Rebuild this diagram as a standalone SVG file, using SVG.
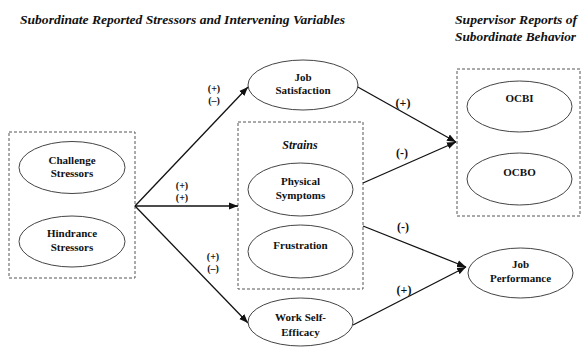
<svg xmlns="http://www.w3.org/2000/svg" width="582" height="347" viewBox="0 0 582 347">
<defs>
<marker id="ah" markerUnits="userSpaceOnUse" markerWidth="10" markerHeight="8" refX="9" refY="4" orient="auto">
<path d="M0,0.5 L9,4 L0,7.5 Z" fill="#111"/>
</marker>
</defs>
<rect width="582" height="347" fill="#fff"/>
<text font-family="Liberation Serif" font-weight="bold" font-style="italic" font-size="13" fill="#111" x="20" y="24" textLength="325" lengthAdjust="spacingAndGlyphs">Subordinate Reported Stressors and Intervening Variables</text>
<text font-family="Liberation Serif" font-weight="bold" font-style="italic" font-size="13" fill="#111" x="455" y="24" textLength="122" lengthAdjust="spacingAndGlyphs">Supervisor Reports of</text>
<text font-family="Liberation Serif" font-weight="bold" font-style="italic" font-size="13" fill="#111" x="455" y="41" textLength="121" lengthAdjust="spacingAndGlyphs">Subordinate Behavior</text>

<g fill="none" stroke="#555" stroke-width="1" stroke-dasharray="3,2">
<g id="stressors-box"><rect x="9" y="132" width="126" height="146"/></g>
<g id="strains-box"><rect x="238" y="122" width="125" height="167"/></g>
<g id="outcomes-box"><rect x="457" y="69" width="123" height="147"/></g>
</g>
<text font-family="Liberation Serif" font-weight="bold" font-style="italic" font-size="12" fill="#111" x="300" y="149" text-anchor="middle">Strains</text>

<g id="connectors">
<g fill="none" stroke="#111" stroke-width="1.3" marker-end="url(#ah)">
<path d="M135,206 L248,87"/>
<path d="M135,206 L238,206"/>
<path d="M135,206 L248,323"/>
<path d="M356,86 L456,142"/>
<path d="M363,183 L456,142"/>
<path d="M363,226 L466,267"/>
<path d="M353,325 L466,267"/>
</g>
<text font-family="Liberation Serif" font-weight="bold" font-size="10" fill="#111" text-anchor="middle" x="214" y="92">(+)</text>
<text font-family="Liberation Serif" font-weight="bold" font-size="10" fill="#111" text-anchor="middle" x="214" y="104">(–)</text>
<text font-family="Liberation Serif" font-weight="bold" font-size="10" fill="#111" text-anchor="middle" x="182" y="189">(+)</text>
<text font-family="Liberation Serif" font-weight="bold" font-size="10" fill="#111" text-anchor="middle" x="182" y="201">(+)</text>
<text font-family="Liberation Serif" font-weight="bold" font-size="10" fill="#111" text-anchor="middle" x="213" y="260">(+)</text>
<text font-family="Liberation Serif" font-weight="bold" font-size="10" fill="#111" text-anchor="middle" x="213" y="272">(–)</text>
<text font-family="Liberation Serif" font-weight="bold" font-size="12" fill="#111" text-anchor="middle" x="403" y="107">(+)</text>
<text font-family="Liberation Serif" font-weight="bold" font-size="12" fill="#111" text-anchor="middle" x="402" y="157">(-)</text>
<text font-family="Liberation Serif" font-weight="bold" font-size="12" fill="#111" text-anchor="middle" x="403" y="231">(-)</text>
<text font-family="Liberation Serif" font-weight="bold" font-size="12" fill="#111" text-anchor="middle" x="404" y="294">(+)</text>
</g>

<g id="challenge"><ellipse fill="#fff" stroke="#444" cx="72" cy="167.5" rx="53" ry="26"/>
<text font-family="Liberation Serif" font-weight="bold" font-size="11" fill="#111" text-anchor="middle" x="72" y="164">Challenge</text><text font-family="Liberation Serif" font-weight="bold" font-size="11" fill="#111" text-anchor="middle" x="72" y="177">Stressors</text></g>
<g id="hindrance"><ellipse fill="#fff" stroke="#444" cx="72" cy="241.5" rx="53" ry="25.5"/>
<text font-family="Liberation Serif" font-weight="bold" font-size="11" fill="#111" text-anchor="middle" x="72" y="237">Hindrance</text><text font-family="Liberation Serif" font-weight="bold" font-size="11" fill="#111" text-anchor="middle" x="72" y="251">Stressors</text></g>
<g id="job-satisfaction"><ellipse fill="#fff" stroke="#444" cx="303" cy="85" rx="55" ry="25"/>
<text font-family="Liberation Serif" font-weight="bold" font-size="11" fill="#111" text-anchor="middle" x="303" y="81">Job</text><text font-family="Liberation Serif" font-weight="bold" font-size="11" fill="#111" text-anchor="middle" x="303" y="94">Satisfaction</text></g>
<g id="physical-symptoms"><ellipse fill="#fff" stroke="#444" cx="300.5" cy="189.5" rx="52.5" ry="26.5"/>
<text font-family="Liberation Serif" font-weight="bold" font-size="11" fill="#111" text-anchor="middle" x="300.5" y="185">Physical</text><text font-family="Liberation Serif" font-weight="bold" font-size="11" fill="#111" text-anchor="middle" x="300.5" y="199">Symptoms</text></g>
<g id="frustration"><ellipse fill="#fff" stroke="#444" cx="300.5" cy="251.5" rx="52.5" ry="26.5"/>
<text font-family="Liberation Serif" font-weight="bold" font-size="11" fill="#111" text-anchor="middle" x="300.5" y="249">Frustration</text></g>
<g id="work-self-efficacy"><ellipse fill="#fff" stroke="#444" cx="300.5" cy="322" rx="52.5" ry="24"/>
<text font-family="Liberation Serif" font-weight="bold" font-size="11" fill="#111" text-anchor="middle" x="300.5" y="321">Work Self-</text><text font-family="Liberation Serif" font-weight="bold" font-size="11" fill="#111" text-anchor="middle" x="300.5" y="336">Efficacy</text></g>
<g id="ocbi"><ellipse fill="#fff" stroke="#444" cx="519.5" cy="106.5" rx="52.5" ry="25.5"/>
<text font-family="Liberation Serif" font-weight="bold" font-size="11" fill="#111" text-anchor="middle" x="519.5" y="102">OCBI</text></g>
<g id="ocbo"><ellipse fill="#fff" stroke="#444" cx="519.5" cy="179" rx="52.5" ry="26"/>
<text font-family="Liberation Serif" font-weight="bold" font-size="11" fill="#111" text-anchor="middle" x="519.5" y="176">OCBO</text></g>
<g id="job-performance"><ellipse fill="#fff" stroke="#444" cx="520.5" cy="273" rx="52.5" ry="25"/>
<text font-family="Liberation Serif" font-weight="bold" font-size="11" fill="#111" text-anchor="middle" x="520.5" y="268">Job</text><text font-family="Liberation Serif" font-weight="bold" font-size="11" fill="#111" text-anchor="middle" x="520.5" y="282">Performance</text></g>
</svg>
